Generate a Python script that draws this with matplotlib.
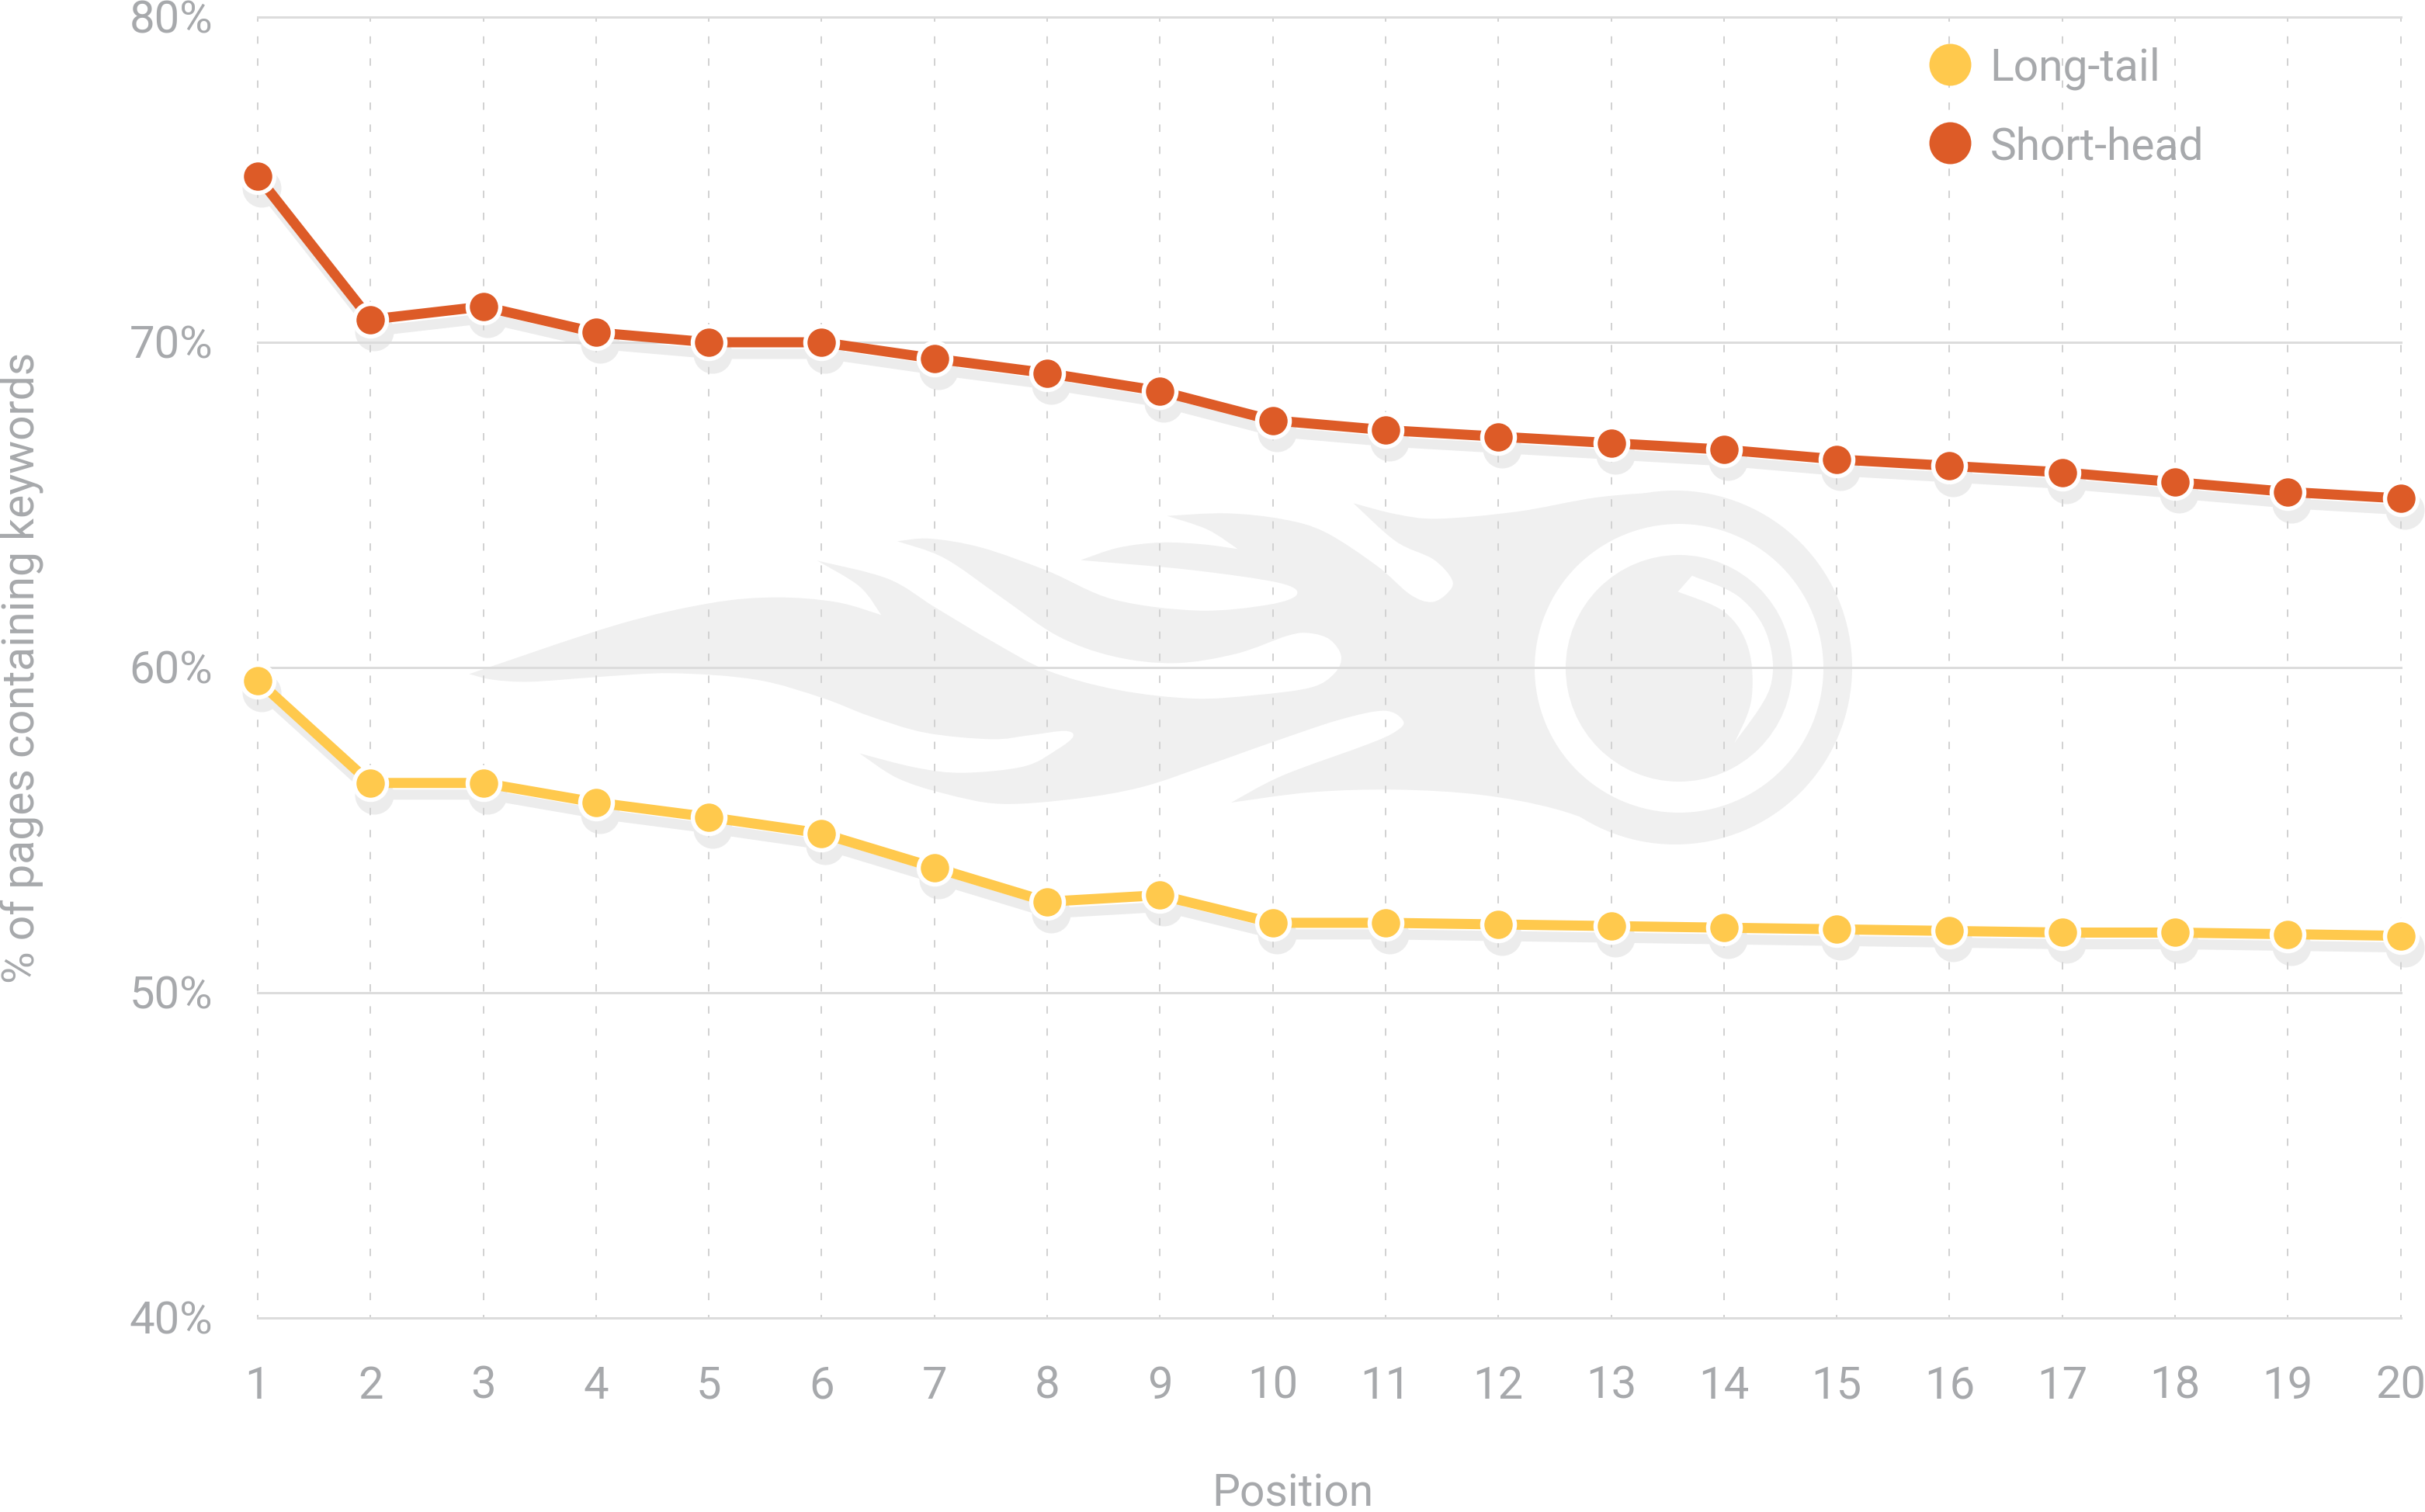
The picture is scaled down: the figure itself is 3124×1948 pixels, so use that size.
import numpy as np
import matplotlib
matplotlib.use('Agg')
import matplotlib.pyplot as plt
from matplotlib.lines import Line2D
from matplotlib.patches import Circle, PathPatch
from matplotlib.path import Path
from matplotlib.transforms import Affine2D, ScaledTranslation

plt.rcParams['font.family'] = ['Roboto', 'DejaVu Sans']
plt.rcParams['lines.scale_dashes'] = False

positions = list(range(1, 21))
short_head = [75.1, 70.7, 71.1, 70.3, 70.0, 70.0, 69.5, 69.05, 68.5, 67.6,
              67.3, 67.1, 66.9, 66.7, 66.4, 66.2, 66.0, 65.7, 65.4, 65.2]
long_tail = [59.6, 56.45, 56.45, 55.85, 55.4, 54.9, 53.85, 52.8, 53.0, 52.15,
             52.15, 52.1, 52.05, 52.0, 51.95, 51.9, 51.85, 51.85, 51.8, 51.75]
y_ticks = [40, 50, 60, 70, 80]
y_labels = ['40%', '50%', '60%', '70%', '80%']

ORANGE = '#dd5b27'
YELLOW = '#ffc94d'
GREY_TEXT = '#a7a9ac'
SHADOW = '#ececec'
LOGO = '#f0f0f0'
W, H = 3124, 1949
DPI = 100
PX = 72 / DPI  # one pixel in points

fig = plt.figure(figsize=(W / DPI, H / DPI), dpi=DPI)
ax = fig.add_axes([332 / W, 1 - 1699 / H, (3092.6 - 332) / W, (1699 - 23) / H])


# logo outline: traced in pixels, smooth runs split at the sharp corners
def to_px(pts):
    return [(550 + x * 1900 / 1568, 620 + y / 3) for x, y in pts]


def smooth(pts):
    # Catmull-Rom through pts, as bezier pieces
    pts = np.array(to_px(pts))
    verts, codes = [], []
    for i in range(len(pts) - 1):
        p0 = pts[max(i - 1, 0)]
        p1 = pts[i]
        p2 = pts[i + 1]
        p3 = pts[min(i + 2, len(pts) - 1)]
        verts += [p1 + (p2 - p0) / 6, p2 - (p3 - p1) / 6, p2]
        codes += [Path.CURVE4] * 3
    return verts, codes


def outline(runs):
    verts = [to_px(runs[0][:1])[0]]
    codes = [Path.MOVETO]
    for run in runs:
        v, c = smooth(run)
        verts += v
        codes += c
    return Path(verts, codes)


flame_runs = [
    [(45, 748), (200, 560), (300, 475), (370, 452), (435, 470), (483, 520)],
    [(483, 520), (460, 410), (415, 310)],
    [(415, 310), (490, 380), (540, 490), (600, 620), (660, 735), (735, 810), (815, 843), (880, 830), (940, 800), (965, 745), (972, 680), (960, 615), (938, 590), (915, 600), (860, 670), (795, 706), (730, 680), (670, 600), (610, 450), (550, 300), (500, 235)],
    [(500, 235), (535, 225), (590, 260), (660, 350), (730, 460), (820, 503), (895, 480), (925, 440), (905, 395), (810, 345), (695, 308)],
    [(695, 308), (735, 260), (780, 240), (825, 247), (862, 265)],
    [(862, 265), (830, 190), (787, 137)],
    [(787, 137), (850, 127), (910, 150), (955, 200), (1010, 330), (1045, 440), (1068, 470), (1085, 435), (1090, 385), (1070, 305), (1030, 235), (985, 88)],
    [(985, 88), (1030, 130), (1075, 148), (1160, 120), (1245, 65), (1325, 42)],
    [(1325, 42), (1325, 1407)],
    [(1325, 1407), (1280, 1370), (1200, 1270), (1120, 1215), (1030, 1195), (940, 1205), (855, 1245)],
    [(855, 1245), (910, 1140), (1000, 1020), (1030, 970), (1038, 930), (1018, 890), (970, 925), (900, 1010), (830, 1100), (760, 1185), (690, 1230), (610, 1250), (550, 1210), (500, 1150), (460, 1055)],
    [(460, 1055), (520, 1110), (570, 1130), (635, 1105), (670, 1040), (687, 990), (678, 968), (640, 985), (600, 1000), (530, 975), (470, 910), (420, 840), (350, 770), (260, 745), (180, 760), (110, 778), (70, 770), (45, 748)],
]
curl_runs = [
    [(1345, 368), (1395, 450), (1425, 600), (1428, 800), (1390, 1015)],
    [(1390, 1015), (1408, 850), (1405, 650), (1380, 510), (1330, 430)],
    [(1330, 430), (1345, 368)],
]
px_trans = Affine2D().scale(1, -1).translate(0, H)
ax.add_patch(PathPatch(outline(flame_runs), fc=LOGO, ec='none', transform=px_trans, zorder=0.1, clip_on=False))
for cx, cy, r, c in [(2158, 861, 228, LOGO), (2163, 862, 186, 'white'), (2163, 862, 146, LOGO)]:
    ax.add_patch(Circle((cx, cy), r, fc=c, ec='none', transform=px_trans, zorder=0.1, clip_on=False))
ax.add_patch(PathPatch(outline(curl_runs), fc='white', ec='none', transform=px_trans, zorder=0.1, clip_on=False))

# drop shadow: same data, shifted a few pixels
shadow_trans = ax.transData + ScaledTranslation(5 * PX / 72, -15 * PX / 72, fig.dpi_scale_trans)
for values, color in [(short_head, ORANGE), (long_tail, YELLOW)]:
    ax.plot(positions, values, color=SHADOW, lw=13 * PX, marker='o', ms=50 * PX, mew=0,
            transform=shadow_trans, zorder=0.2, clip_on=False)
    ax.plot(positions, values, color=color, lw=13 * PX, zorder=3, clip_on=False)
    ax.plot(positions, values, ls='none', marker='o', mfc=color, mec='white',
            ms=42 * PX, mew=5.5 * PX, zorder=4, clip_on=False)

ax.set_xlim(1, 20)
ax.set_ylim(40, 80)
ax.set_xticks(positions)
ax.set_yticks(y_ticks, y_labels)
ax.set_axisbelow(True)
ax.grid(axis='y', color='#dcdcdc', lw=3 * PX, clip_on=False)
ax.grid(axis='x', color='#d2d2d2', lw=2 * PX, clip_on=False,
        linestyle=(5.5 * PX, (9.5 * PX, 18.9 * PX)))
for s in ax.spines.values():
    s.set_visible(False)
ax.tick_params(length=0, labelsize=58 * PX, labelcolor=GREY_TEXT)
ax.tick_params(axis='y', pad=58 * PX)
ax.tick_params(axis='x', pad=60 * PX)
up = ScaledTranslation(0, 2 * PX / 72, fig.dpi_scale_trans)
for label in ax.get_yticklabels():
    label.set_transform(label.get_transform() + up)

fig.text(1665 / W, 1 - 1925 / H, 'Position', color=GREY_TEXT, fontsize=57 * PX, ha='center', va='center')
fig.text(28 / W, 1 - 860 / H, '% of pages containing keywords', color=GREY_TEXT, fontsize=57 * PX,
         rotation=90, ha='center', va='center')

handles = [Line2D([], [], ls='none', marker='o', ms=54 * PX, mew=0, color=YELLOW),
           Line2D([], [], ls='none', marker='o', ms=54 * PX, mew=0, color=ORANGE)]
fig.legend(handles, ['Long-tail', 'Short-head'], loc='upper left', bbox_to_anchor=(2485 / W, 1 - 61 / H),
           frameon=False, fontsize=57 * PX, labelcolor=GREY_TEXT, borderpad=0, borderaxespad=0,
           handlelength=0.93, handletextpad=0.45, labelspacing=0.8)

fig.savefig('out.png', dpi=DPI)
